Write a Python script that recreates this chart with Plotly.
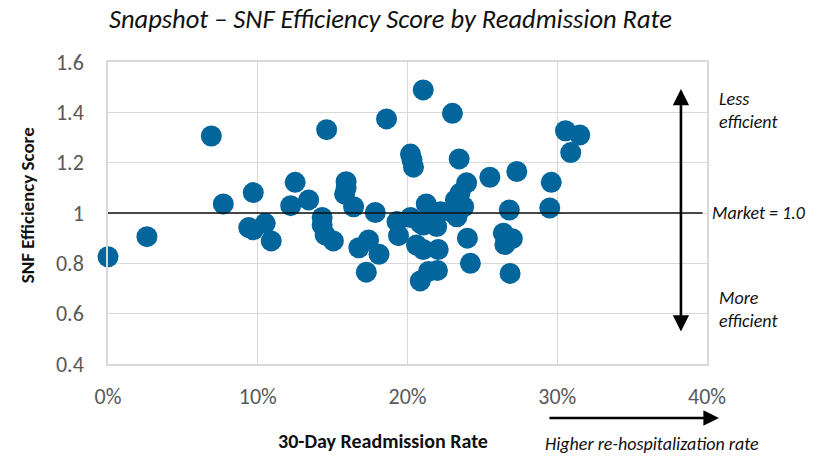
import plotly.graph_objects as go

# Data
readmission_rate = [
    0.000, 0.026, 0.069, 0.077, 0.094, 0.097, 0.097, 0.105, 0.109, 0.125,
    0.122, 0.134, 0.146, 0.143, 0.143, 0.145, 0.1505, 0.159, 0.159, 0.158,
    0.164, 0.1785, 0.186, 0.174, 0.1675, 0.181, 0.1725, 0.193, 0.194, 0.202,
    0.202, 0.203, 0.204, 0.2105, 0.230, 0.2345, 0.2125, 0.2105, 0.2195, 0.222,
    0.206, 0.2105, 0.2205, 0.214, 0.220, 0.2085, 0.232, 0.2295, 0.233, 0.2375,
    0.2395, 0.235, 0.240, 0.242, 0.255, 0.268, 0.264, 0.270, 0.265, 0.2685,
    0.273, 0.296, 0.295, 0.3055, 0.315, 0.309, 0.215, 0.2085,
]
efficiency_score = [
    0.826, 0.906, 1.306, 1.036, 0.942, 0.933, 1.081, 0.959, 0.889, 1.122,
    1.029, 1.052, 1.331, 0.982, 0.952, 0.913, 0.889, 1.124, 1.100, 1.075,
    1.025, 1.002, 1.374, 0.893, 0.862, 0.836, 0.765, 0.966, 0.910, 0.982,
    1.234, 1.211, 1.182, 1.489, 1.396, 1.215, 1.036, 0.952, 0.946, 1.005,
    0.873, 0.855, 0.855, 0.768, 0.772, 0.730, 1.052, 1.005, 0.985, 1.025,
    1.120, 1.078, 0.900, 0.800, 1.142, 1.012, 0.920, 0.898, 0.875, 0.760,
    1.165, 1.122, 1.020, 1.327, 1.310, 1.240, 0.970, 0.960,
]
market_value = 1.0
x_tick_values = [0, 0.1, 0.2, 0.3, 0.4]
y_tick_values = [0.4, 0.6, 0.8, 1.0, 1.2, 1.4, 1.6]

FONT = "Carlito, Lato, 'Open Sans', sans-serif"
BLUE = "#02659B"
GRID = "#D9D9D9"

fig = go.Figure()
fig.add_trace(go.Scatter(
    x=readmission_rate, y=efficiency_score, mode="markers",
    marker=dict(size=21, color=BLUE, line=dict(width=0)),
    cliponaxis=False, showlegend=False, hoverinfo="x+y",
))

# market line
fig.add_shape(type="line", xref="x", yref="y", x0=0, x1=0.397,
              y0=market_value, y1=market_value,
              line=dict(color="#111111", width=1.3), layer="above")

annotations = [
    # title
    dict(text="<i>Snapshot – SNF Efficiency Score by Readmission Rate</i>",
         xref="paper", yref="paper", x=0.472, y=1.142, showarrow=False,
         font=dict(size=26.5, color="#111111"), xanchor="center", yanchor="middle"),
    # y axis title
    dict(text="<b>SNF Efficiency Score</b>", textangle=-90,
         xref="paper", yref="paper", x=-0.135, y=0.526, showarrow=False,
         font=dict(size=19, color="#111111"), xanchor="center", yanchor="middle"),
    # x axis title
    dict(text="<b>30-Day Readmission Rate</b>",
         xref="paper", yref="paper", x=0.459, y=-0.255, showarrow=False,
         font=dict(size=20, color="#111111"), xanchor="center", yanchor="middle"),
    dict(text="<i>Higher re-hospitalization rate</i>",
         xref="paper", yref="paper", x=0.908, y=-0.265, showarrow=False,
         font=dict(size=18, color="#111111"), xanchor="center", yanchor="middle"),
    # right side labels
    dict(text="<i>Less<br>efficient</i>", align="left",
         xref="paper", yref="paper", x=1.016, y=0.838, showarrow=False,
         font=dict(size=18, color="#111111"), xanchor="left", yanchor="middle"),
    dict(text="<i>Market = 1.0</i>",
         xref="paper", yref="y", x=1.005, y=market_value, showarrow=False,
         font=dict(size=18, color="#111111"), xanchor="left", yanchor="middle"),
    dict(text="<i>More<br>efficient</i>", align="left",
         xref="paper", yref="paper", x=1.016, y=0.182, showarrow=False,
         font=dict(size=18, color="#111111"), xanchor="left", yanchor="middle"),
    # vertical double arrow
    dict(text="", xref="x", yref="y", axref="x", ayref="y",
         x=0.3826, y=1.493, ax=0.3826, ay=0.523, showarrow=True,
         arrowhead=2, startarrowhead=2, arrowside="end+start",
         arrowwidth=2.6, arrowsize=1.25, startarrowsize=1.25, arrowcolor="#000000"),
    # horizontal arrow
    dict(text="", xref="paper", yref="paper",
         x=1.020, y=-0.1788, ax=-171, ay=0, showarrow=True,
         arrowhead=2, arrowwidth=2.6, arrowsize=1.2, arrowcolor="#000000"),
]

fig.update_layout(
    width=817, height=466,
    margin=dict(l=108, r=110, t=62, b=102, autoexpand=False),
    paper_bgcolor="white", plot_bgcolor="white",
    font=dict(family=FONT, color="#595959"),
    annotations=annotations,
    xaxis=dict(range=[0, 0.4], tickvals=x_tick_values, tickformat=".0%",
               showgrid=True, gridcolor=GRID, gridwidth=1.4,
               showline=True, linecolor=GRID, linewidth=1.6, mirror=True,
               zeroline=False, ticks="", ticklabelstandoff=12,
               tickfont=dict(size=22, color="#595959", family=FONT)),
    yaxis=dict(range=[0.4, 1.6], tickvals=y_tick_values,
               ticktext=["0.4", "0.6", "0.8", "1", "1.2", "1.4", "1.6"],
               showgrid=True, gridcolor=GRID, gridwidth=1.4,
               showline=True, linecolor=GRID, linewidth=1.6, mirror=True,
               zeroline=False, ticks="", ticklabelstandoff=18,
               tickfont=dict(size=22, color="#595959", family=FONT)),
)

# remove the default 8px page margin so the figure fills the window exactly
fig.write_html("out.html",
               config={"displayModeBar": False},
               post_script="document.body.style.margin='0';document.body.style.overflow='hidden';")
